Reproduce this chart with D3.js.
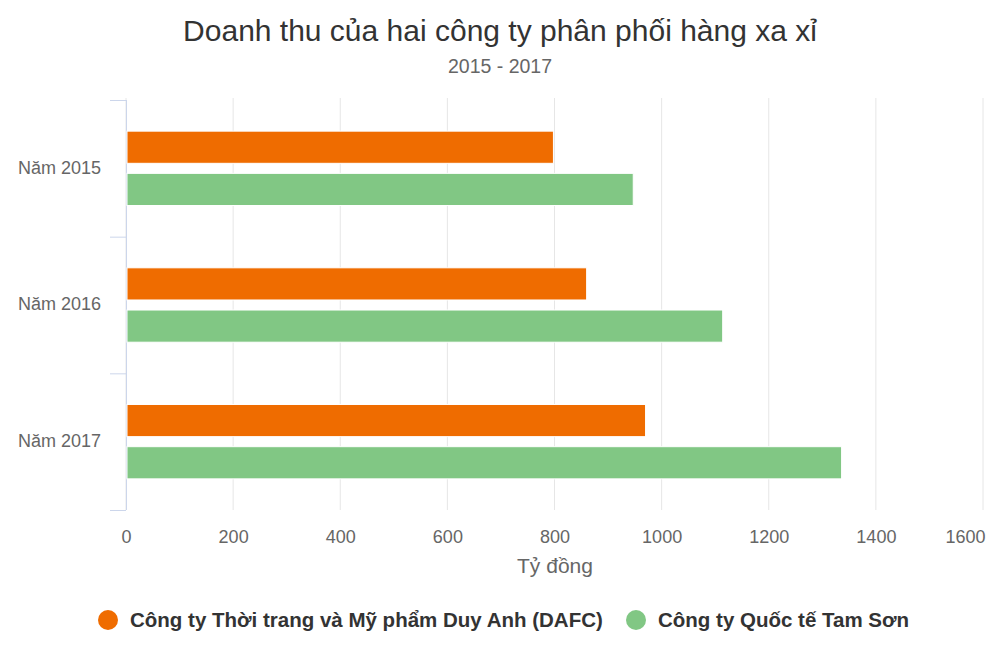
<!doctype html>
<html>
<head>
<meta charset="utf-8">
<script src="https://d3js.org/d3.v7.min.js"></script>
<style>
    body { margin: 0; background: #fff; }
    svg text { font-family: "Liberation Sans", Arial, sans-serif; }
</style>
</head>
<body>
<script>
    let categories = ["Năm 2015", "Năm 2016", "Năm 2017"];
    let seriesNames = ["Công ty Thời trang và Mỹ phẩm Duy Anh (DAFC)", "Công ty Quốc tế Tam Sơn"];
    let dafc = [798, 860, 970];
    let tamSon = [947, 1114, 1336];
    let xTicks = [0, 200, 400, 600, 800, 1000, 1200, 1400, 1600];
    let colors = ["#ef6c00", "#81c784"];

    let width = 1000, height = 666;
    let plotLeft = 126, plotRight = 983, plotTop = 100, plotBottom = 510;

    let svg = d3.select("body").append("svg")
        .attr("width", width)
        .attr("height", height);

    let x = d3.scaleLinear().domain([0, 1600]).range([plotLeft, plotRight]);
    let y = d3.scaleBand().domain(categories).range([plotTop, plotBottom]);
    let inner = d3.scaleBand().domain([0, 1]).range([0, y.bandwidth()]).paddingInner(0.238).paddingOuter(0.738);

    // title
    svg.append("text").attr("x", 500).attr("y", 41).attr("text-anchor", "middle")
        .attr("fill", "#333").style("font-size", "30px")
        .text("Doanh thu của hai công ty phân phối hàng xa xỉ");
    svg.append("text").attr("x", 500).attr("y", 73).attr("text-anchor", "middle")
        .attr("fill", "#666").style("font-size", "19.5px")
        .text("2015 - 2017");

    // grid
    svg.append("g").selectAll("line").data(xTicks).join("line")
        .attr("x1", d => x(d)).attr("x2", d => x(d))
        .attr("y1", plotTop - 2).attr("y2", plotBottom)
        .attr("stroke", "#e6e6e6").attr("stroke-width", 1);

    // x axis labels
    let xAxis = d3.axisBottom(x).tickValues(xTicks).tickSize(0).tickPadding(0).tickFormat(d3.format("d"));
    let gx = svg.append("g").attr("transform", "translate(0," + (plotBottom + 33) + ")").call(xAxis);
    gx.select(".domain").remove();
    gx.selectAll("text").attr("fill", "#666").style("font-size", "18px").attr("dy", "0")
        .attr("text-anchor", d => d === 1600 ? "end" : "middle")
        .attr("x", d => d === 1600 ? 2 : 0);

    svg.append("text").attr("x", 555).attr("y", 573).attr("text-anchor", "middle")
        .attr("fill", "#666").style("font-size", "21px").text("Tỷ đồng");

    // y axis
    let yAxis = d3.axisLeft(y).tickSize(0).tickPadding(25);
    let gy = svg.append("g").attr("transform", "translate(" + plotLeft + ",0)").call(yAxis);
    gy.select(".domain").remove();
    gy.selectAll("text").attr("fill", "#666").style("font-size", "18px").attr("dy", "0.3em");
    // category boundary ticks
    let bounds = categories.map(c => y(c)).concat([plotBottom]);
    svg.append("g").selectAll("line").data(bounds).join("line")
        .attr("x1", plotLeft - 16).attr("x2", plotLeft)
        .attr("y1", d => d + 0.5).attr("y2", d => d + 0.5)
        .attr("stroke", "#ccd6eb").attr("stroke-width", 1);
    svg.append("line").attr("x1", plotLeft + 0.5).attr("x2", plotLeft + 0.5)
        .attr("y1", plotTop).attr("y2", plotBottom).attr("stroke", "#ccd6eb");

    // bars
    let series = [dafc, tamSon];
    series.forEach((vals, s) => {
        svg.append("g").selectAll("rect").data(vals).join("rect")
            .attr("x", x(0) + 1)
            .attr("y", (d, i) => y(categories[i]) + inner(s))
            .attr("width", d => x(d) - x(0) - 1)
            .attr("height", inner.bandwidth())
            .attr("fill", colors[s])
            .attr("stroke", "#fff").attr("stroke-width", 1);
    });

    // legend
    let legendX = [108, 636];
    let lg = svg.append("g").selectAll("g").data(seriesNames).join("g")
        .attr("transform", (d, i) => "translate(" + legendX[i] + ",620)");
    lg.append("circle").attr("r", 10).attr("fill", (d, i) => colors[i]);
    lg.append("text").attr("x", 22).attr("dy", "0.35em")
        .attr("fill", "#333").style("font-size", "20.5px").style("font-weight", "bold")
        .text(d => d);
</script>
</body>
</html>
